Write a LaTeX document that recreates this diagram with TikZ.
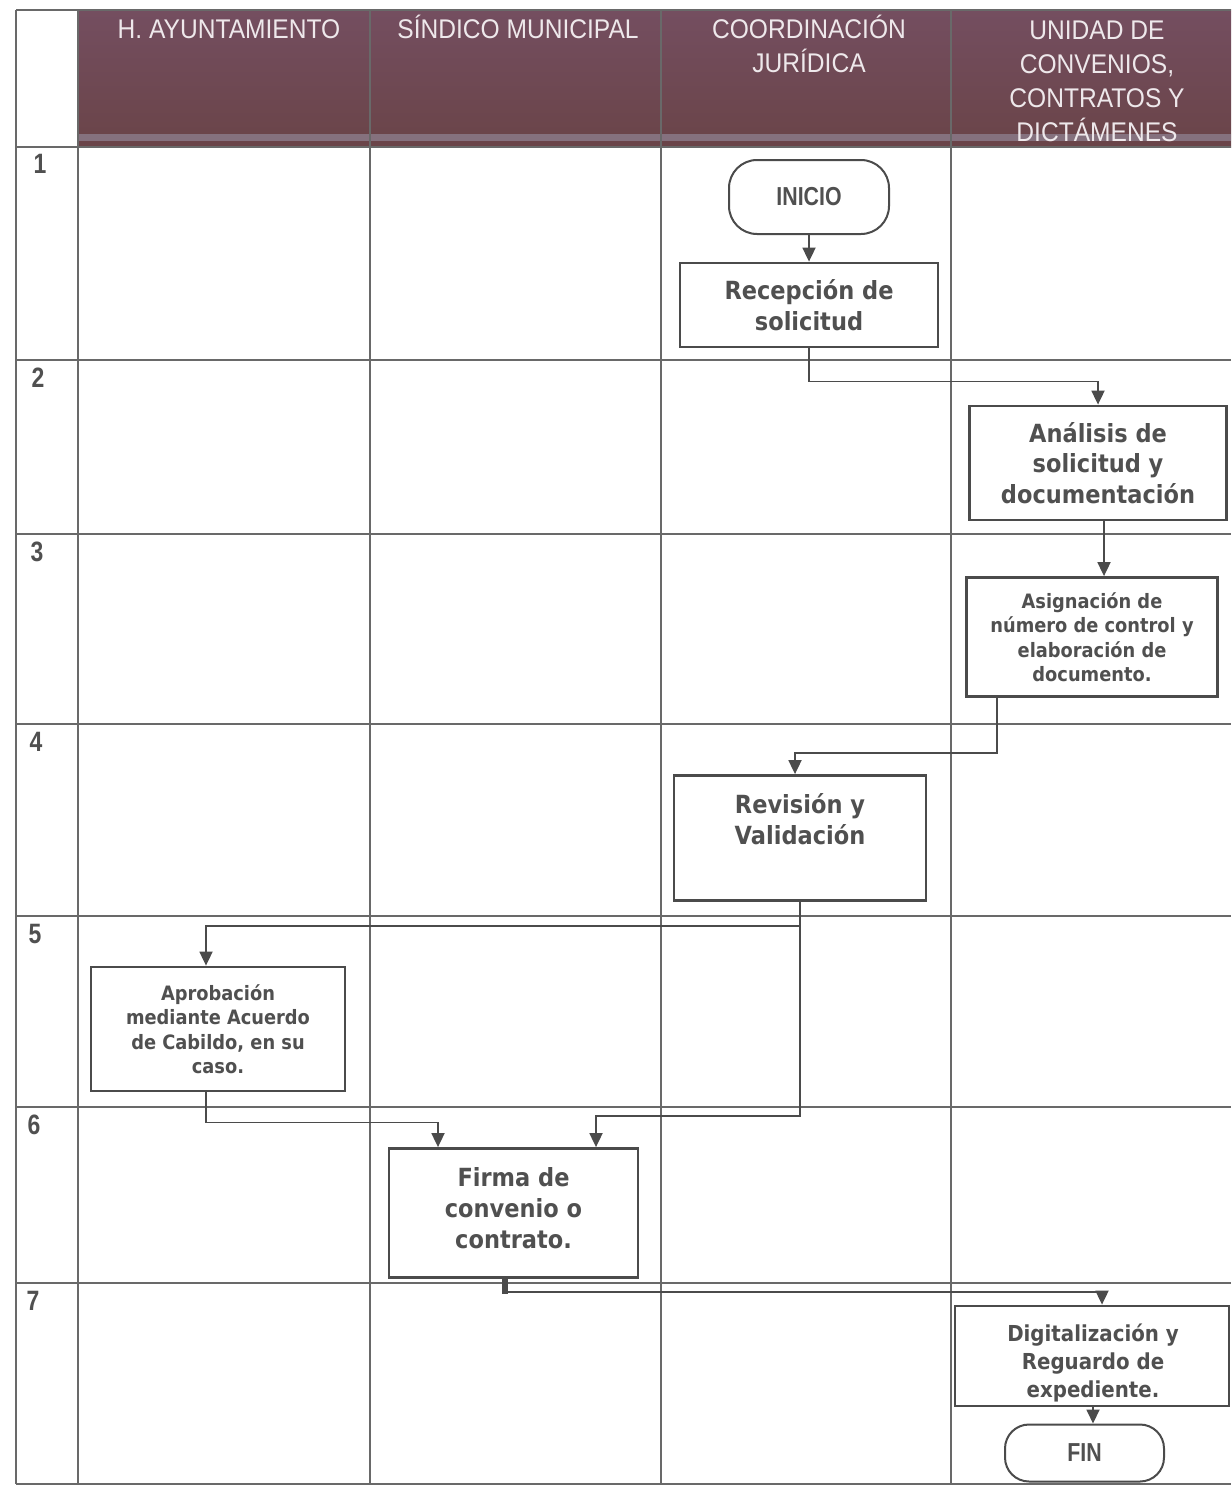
\documentclass[tikz,border=0pt]{standalone}
\usepackage{fontspec}
\setmainfont{Liberation Sans}
\newfontfamily\hdrfont[FakeStretch=0.91]{Liberation Sans}
\newfontfamily\bodyfont[FakeStretch=0.9]{DejaVu Sans}
\newfontfamily\termfont[FakeStretch=0.82]{Liberation Sans}
\usetikzlibrary{arrows.meta,calc}
\definecolor{hdrtop}{RGB}{116,78,96}
\definecolor{hdrbot}{RGB}{106,68,72}
\definecolor{hdrband}{RGB}{140,125,140}
\definecolor{gridc}{RGB}{105,105,105}
\definecolor{boxc}{RGB}{75,75,75}
\definecolor{txtc}{RGB}{80,80,80}
\definecolor{hdrtxt}{RGB}{238,232,235}
\tikzset{
  gridline/.style={draw=gridc, line width=1.2pt},
  hdr/.style={align=center, text=hdrtxt, anchor=north, inner sep=0pt,
    font={\hdrfont\fontsize{27}{34}\selectfont}},
  num/.style={text=txtc, inner sep=0pt, font={\termfont\bfseries\fontsize{28}{30}\selectfont}},
  procbox/.style={draw=boxc, line width=2.8pt, rectangle, inner sep=0pt},
  bigtxt/.style={text=txtc, align=center, font={\bodyfont\bfseries\fontsize{25}{30.8}\selectfont}},
  smalltxt/.style={text=txtc, align=center, font={\bodyfont\bfseries\fontsize{19.8}{24.5}\selectfont}},
  midtxt/.style={text=txtc, align=center, font={\bodyfont\bfseries\fontsize{22}{28}\selectfont}},
  term/.style={draw=boxc, line width=2pt, rectangle, rounded corners=28pt,
    text=txtc, inner sep=0pt, font={\termfont\bfseries\fontsize{26}{28}\selectfont}},
  conn/.style={draw=boxc, line width=1.8pt, -{Triangle[length=14pt,width=13pt]}},
}
\begin{document}
\begin{tikzpicture}[x=1pt,y=-1pt]
\useasboundingbox (0,0) rectangle (1231,1485);
\fill[white] (0,0) rectangle (1231,1485);
% header
\shade[top color=hdrtop, bottom color=hdrbot] (78,10) rectangle (1231,147);
\fill[hdrband, opacity=0.8] (78,134) rectangle (1231,141);
% grid
\draw[gridline] (16,10) -- (1231,10);
\draw[gridline] (16,147) -- (1231,147);
\foreach \yy in {360,534,724,916,1107,1283,1484} \draw[gridline] (16,\yy) -- (1231,\yy);
\draw[gridline] (16,10) -- (16,1484);
\draw[gridline] (78,10) -- (78,1484);
\foreach \xx in {370,661,951} \draw[gridline] (\xx,10) -- (\xx,1484);
% header texts
\node[hdr] (h1) at (229,15) {\vphantom{Í}H. AYUNTAMIENTO};
\node[hdr] (h2) at (518,15) {\vphantom{Í}SÍNDICO MUNICIPAL};
\node[hdr] (h3) at (809,15) {\vphantom{Í}COORDINACIÓN\\JURÍDICA};
\node[hdr] (h4) at (1097,16) {\vphantom{Í}UNIDAD DE\\CONVENIOS,\\CONTRATOS Y\\DICTÁMENES};
% row numbers
\node[num] (n1) at (40,164) {1};
\node[num] (n2) at (38,378) {2};
\node[num] (n3) at (37,552) {3};
\node[num] (n4) at (36,742) {4};
\node[num] (n5) at (35,934) {5};
\node[num] (n6) at (34,1125) {6};
\node[num] (n7) at (33,1301) {7};
% nodes
\node[term, minimum width=160pt, minimum height=74pt] (inicio) at (809,197) {INICIO};
\node[procbox, bigtxt, minimum width=258pt, minimum height=84pt] (rec) at (809,305) {Recepción de\\solicitud};
\node[procbox, bigtxt, minimum width=257pt, minimum height=114pt] (ana) at (1098,463) {Análisis de\\solicitud y\\documentación};
\node[procbox, smalltxt, minimum width=251pt, minimum height=119pt] (asg) at (1092,637) {Asignación de\\número de control y\\elaboración de\\documento.};
\node[procbox, minimum width=252pt, minimum height=125pt] (rev) at (800,838) {};
\node[bigtxt] (revtxt) at (800,819) {Revisión y\\Validación};
\node[procbox, smalltxt, minimum width=254pt, minimum height=124pt] (apr) at (218,1029) {Aprobación\\mediante Acuerdo\\de Cabildo, en su\\caso.};
\node[procbox, minimum width=249pt, minimum height=129pt] (fir) at (513.5,1213) {};
\node[bigtxt] (firtxt) at (513.5,1208) {Firma de\\convenio o\\contrato.};
\node[procbox, minimum width=274pt, minimum height=100pt] (dig) at (1092,1356) {};
\node[midtxt] (digtxt) at (1093,1363) {Digitalización y\\Reguardo de\\expediente.};
\node[term, minimum width=159pt, minimum height=57pt, rounded corners=24pt] (fin) at (1084.5,1453) {FIN};
% connectors
\draw[conn] (inicio.south) -- (rec.north);
\draw[conn] (rec.south) -- ++(0,33) -| (ana.north);
\draw[conn] ([xshift=6pt]ana.south) -- ([xshift=6pt]ana.south |- asg.north);
\draw[conn] ([xshift=-95pt]asg.south) -- ++(0,55) -| ([xshift=-5pt]rev.north);
\draw[conn] (rev.south) -- ++(0,24) -| ([xshift=-12pt]apr.north);
\draw[conn] (rev.south) -- ++(0,214) -| ([xshift=82.5pt]fir.north);
\draw[conn] ([xshift=-12pt]apr.south) -- ++(0,30) -| ([xshift=-75.5pt]fir.north);
\draw[conn] ([xshift=-8.5pt]fir.south) -- ++(0,13) -| ([xshift=10pt]dig.north);
\draw[boxc, line width=6pt] ([xshift=-8.5pt]fir.south) -- ++(0,15);
\draw[conn] ([xshift=1pt]dig.south) -- ([xshift=1pt]dig.south |- fin.north);
\end{tikzpicture}
\end{document}
